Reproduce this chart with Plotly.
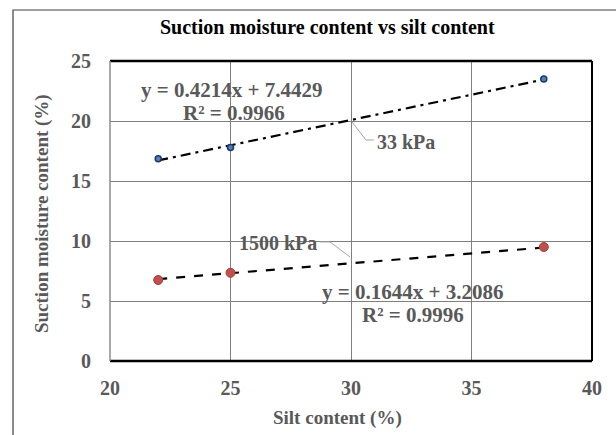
import plotly.graph_objects as go

silt = [22, 25, 38]
suction_33kpa = [16.85, 17.8, 23.5]
suction_1500kpa = [6.75, 7.35, 9.5]
fit_33 = (0.4214, 7.4429, 0.9966)
fit_1500 = (0.1644, 3.2086, 0.9996)
x_ticks = [20, 25, 30, 35, 40]
y_ticks = [0, 5, 10, 15, 20, 25]

FONT = "Liberation Serif"
GRAY = "#595959"

fig = go.Figure()

xs = [min(silt), max(silt)]
fig.add_trace(go.Scatter(x=xs, y=[fit_33[0] * v + fit_33[1] for v in xs], mode="lines",
                         line=dict(color="black", width=2.2, dash="10px,5px,3px,5px"), showlegend=False))
fig.add_trace(go.Scatter(x=xs, y=[fit_1500[0] * v + fit_1500[1] for v in xs], mode="lines",
                         line=dict(color="black", width=2.2, dash="dash"), showlegend=False))
fig.add_trace(go.Scatter(x=silt, y=suction_33kpa, mode="markers",
                         marker=dict(size=6, color="#4f81bd", line=dict(color="#1f3864", width=1.5)),
                         showlegend=False))
fig.add_trace(go.Scatter(x=silt, y=suction_1500kpa, mode="markers",
                         marker=dict(size=9, color="#c0504d", line=dict(color="#b03a37", width=1)),
                         showlegend=False))

eq_font = dict(family=FONT, size=21, color=GRAY)
lab_font = dict(family=FONT, size=20, color=GRAY)
ann = [
    dict(x=25.06, y=22.58, text="<b>y = %.4fx + %.4f</b>" % fit_33[:2], font=eq_font),
    dict(x=25.15, y=20.67, text="<b>R² = %.4f</b>" % fit_33[2], font=eq_font),
    dict(x=32.57, y=5.75, text="<b>y = %.4fx + %.4f</b>" % fit_1500[:2], font=eq_font),
    dict(x=32.57, y=3.83, text="<b>R² = %.4f</b>" % fit_1500[2], font=eq_font),
    dict(x=32.3, y=18.25, text="<b>33 kPa</b>", font=lab_font),
    dict(x=26.97, y=9.83, text="<b>1500 kPa</b>", font=lab_font),
]
for a in ann:
    fig.add_annotation(xref="x", yref="y", showarrow=False, xanchor="center", yanchor="middle", **a)

# leader lines
fig.add_shape(type="line", xref="x", yref="y", x0=30.04, y0=19.92, x1=30.62, y1=18.42,
              line=dict(color="#a6a6a6", width=1))
fig.add_shape(type="line", xref="x", yref="y", x0=30.62, y0=18.42, x1=30.95, y1=18.42,
              line=dict(color="#a6a6a6", width=1))
fig.add_shape(type="line", xref="x", yref="y", x0=28.71, y0=9.92, x1=29.13, y1=9.92,
              line=dict(color="#a6a6a6", width=1))
fig.add_shape(type="line", xref="x", yref="y", x0=29.13, y0=9.92, x1=29.96, y1=8.67,
              line=dict(color="#a6a6a6", width=1))

# plot frame
fig.add_shape(type="line", xref="paper", yref="paper", x0=0, y0=1, x1=1, y1=1, line=dict(color="black", width=2.5))
fig.add_shape(type="line", xref="paper", yref="paper", x0=0, y0=0, x1=1, y1=0, line=dict(color="black", width=2.5))
fig.add_shape(type="line", xref="paper", yref="paper", x0=1, y0=0, x1=1, y1=1, line=dict(color="black", width=2))
fig.add_shape(type="line", xref="paper", yref="paper", x0=0, y0=0, x1=0, y1=1, line=dict(color="#8c8c8c", width=1.5))
# outer chart border
fig.add_shape(type="rect", xref="paper", yref="paper", x0=-0.2012, y0=-0.27, x1=1.06, y1=1.17,
              line=dict(color="#404040", width=1.2))

# titles
fig.add_annotation(xref="paper", yref="paper", x=0.452, y=1.113, showarrow=False,
                   xanchor="center", yanchor="middle",
                   text="<b>Suction moisture content vs silt content</b>",
                   font=dict(family=FONT, size=20, color="black"))
fig.add_annotation(xref="paper", yref="paper", x=0.473, y=-0.19, showarrow=False,
                   xanchor="center", yanchor="middle",
                   text="<b>Silt content (%)</b>", font=dict(family=FONT, size=19, color=GRAY))
fig.add_annotation(xref="paper", yref="paper", x=-0.141, y=0.49, showarrow=False, textangle=-90,
                   xanchor="center", yanchor="middle",
                   text="<b>Suction moisture content (%)</b>", font=dict(family=FONT, size=19, color=GRAY))

fig.update_xaxes(range=[20, 40], tickvals=x_ticks, ticktext=["<b>%d</b>" % v for v in x_ticks],
                 showgrid=True, gridcolor="#7f7f7f", gridwidth=1, zeroline=False, showline=False,
                 ticks="outside", ticklen=9, tickcolor="rgba(0,0,0,0)",
                 tickfont=dict(family=FONT, size=20, color=GRAY))
fig.update_yaxes(range=[0, 25], tickvals=y_ticks, ticktext=["<b>%d</b>" % v for v in y_ticks],
                 showgrid=True, gridcolor="#7f7f7f", gridwidth=1, zeroline=False, showline=False,
                 ticks="outside", ticklen=14, tickcolor="rgba(0,0,0,0)",
                 tickfont=dict(family=FONT, size=20, color=GRAY))

fig.update_layout(width=616, height=435, margin=dict(l=110, r=24, t=61, b=74),
                  plot_bgcolor="white", paper_bgcolor="white", showlegend=False)

fig.write_html("out.html", config={"displayModeBar": False},
               post_script="document.body.style.margin='0';")
